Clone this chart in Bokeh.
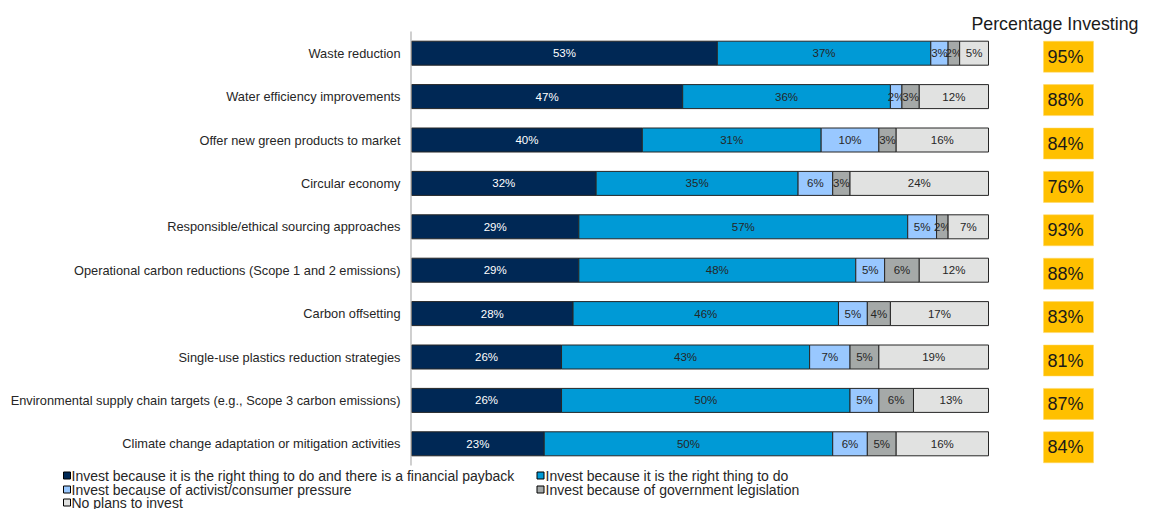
from bokeh.plotting import figure
from bokeh.models import Range1d, ColumnDataSource
from bokeh.core.properties import value
from bokeh.embed import file_html
from bokeh.resources import INLINE

# ---------------- data ----------------
categories = [
    "Waste reduction",
    "Water efficiency improvements",
    "Offer new green products to market",
    "Circular economy",
    "Responsible/ethical sourcing approaches",
    "Operational carbon reductions (Scope 1 and 2 emissions)",
    "Carbon offsetting",
    "Single-use plastics reduction strategies",
    "Environmental supply chain targets (e.g., Scope 3 carbon emissions)",
    "Climate change adaptation or mitigation activities",
]
payback = [53, 47, 40, 32, 29, 29, 28, 26, 26, 23]
right_thing = [37, 36, 31, 35, 57, 48, 46, 43, 50, 50]
pressure = [3, 2, 10, 6, 5, 5, 5, 7, 5, 6]
legislation = [2, 3, 3, 3, 2, 6, 4, 5, 6, 5]
no_plans = [5, 12, 16, 24, 7, 12, 17, 19, 13, 16]
pct_investing = [95, 88, 84, 76, 93, 88, 83, 81, 87, 84]

series_names = [
    "Invest because it is the right thing to do and there is a financial payback",
    "Invest because it is the right thing to do",
    "Invest because of activist/consumer pressure",
    "Invest because of government legislation",
    "No plans to invest",
]
series_values = [payback, right_thing, pressure, legislation, no_plans]
colors = ["#002855", "#009ad6", "#99c8ff", "#a5a9a8", "#e1e2e1"]
label_colors = ["#ffffff", "#262626", "#262626", "#262626", "#262626"]
title_text = "Percentage Investing"

# ---------------- geometry (pixels -> data) ----------------
FIG_W, FIG_H = 1139, 509
X0_PX = 411.0          # pixel of value 0
PX_X = 5.77            # pixels per percent
ROW0_PX = 52.7         # pixel of first row centre
ROW_PX = 43.4          # pixels per row


def xd(px):
    return (px - X0_PX) / PX_X


def yd(py):
    return (py - ROW0_PX) / ROW_PX


p = figure(
    width=FIG_W, height=FIG_H,
    x_range=Range1d(xd(0), xd(FIG_W)),
    y_range=Range1d(yd(FIG_H), yd(0)),
    output_backend="svg", toolbar_location=None,
    x_axis_location=None, y_axis_location=None,
    min_border=0, min_border_left=0, min_border_right=0,
    min_border_top=0, min_border_bottom=0,
)
p.outline_line_color = None
p.xgrid.visible = False
p.ygrid.visible = False
p.background_fill_color = "white"
p.border_fill_color = "white"

FONT = value("Liberation Sans")
rows = list(range(len(categories)))
BAR_H = 24 / ROW_PX

# stacked bars
left = [0.0] * len(categories)
for name, vals, col, lcol in zip(series_names, series_values, colors, label_colors):
    right = [l + v for l, v in zip(left, vals)]
    src = ColumnDataSource(dict(
        y=rows, left=left, right=right,
        mid=[(l + r) / 2 for l, r in zip(left, right)],
        lab=[f"{v}%" for v in vals],
    ))
    p.hbar(y="y", left="left", right="right", height=BAR_H, source=src,
           fill_color=col, line_color="#262626", line_width=1)
    p.text(x="mid", y="y", text="lab", source=src, text_align="center",
           text_baseline="middle", text_font=FONT, text_font_size="11.5px",
           text_color=lcol)
    left = right

# axis line
p.segment(x0=[xd(410.5)], y0=[-0.5], x1=[xd(410.5)], y1=[len(categories) - 0.5],
          line_color="#b0b0b0", line_width=1.2)

# category labels
p.text(x=[xd(400)] * len(categories), y=rows, text=categories,
       text_align="right", text_baseline="middle", text_font=FONT,
       text_font_size="12.8px", text_color="#262626")

# percentage investing boxes
box_y = [r + 3.5 / ROW_PX for r in rows]
p.rect(x=[xd(1068)] * len(rows), y=box_y, width=50 / PX_X, height=31 / ROW_PX,
       fill_color="#ffc000", line_color="#ffd966", line_width=0.5)
p.text(x=[xd(1047)] * len(rows), y=box_y, text=[f"{v}%" for v in pct_investing],
       text_align="left", text_baseline="middle", text_font=FONT,
       text_font_size="18px", text_color="#1a1a1a")

# header
p.text(x=[xd(1138)], y=[yd(23)], text=[title_text], text_align="right",
       text_baseline="alphabetic", text_font=FONT, text_font_size="17.8px",
       text_color="#1a1a1a")

# legend (manual, 2 columns)
leg_rows_px = [475, 489, 502]
leg_marker_px = [66.5, 540]
leg_text_px = [71, 545]
mx, my, tx, ty = [], [], [], []
for i in range(len(series_names)):
    c, r = i % 2, i // 2
    mx.append(xd(leg_marker_px[c]))
    tx.append(xd(leg_text_px[c]))
    my.append(yd(leg_rows_px[r]))
    ty.append(yd(leg_rows_px[r]))
p.scatter(x=mx, y=my, marker="square", size=7, fill_color=colors,
          line_color="#000000", line_width=1)
p.text(x=tx, y=ty, text=series_names, text_align="left", text_baseline="middle",
       text_font=FONT, text_font_size="14px", text_color="#262626")

open("out.html", "w").write(file_html(p, INLINE))
